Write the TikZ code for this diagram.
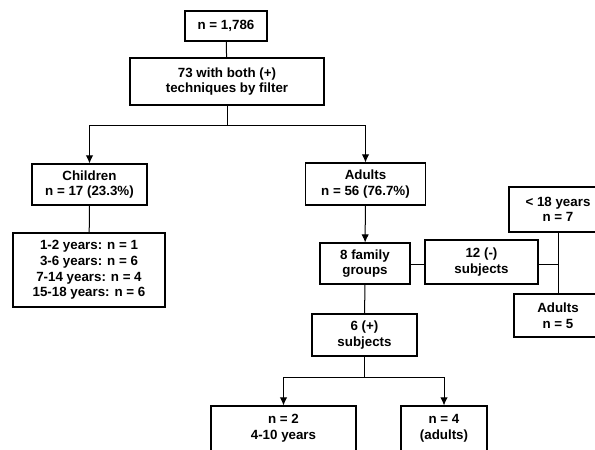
\documentclass[tikz,border=0pt]{standalone}
\usepackage{fontspec}
\setmainfont{Liberation Sans}
\usetikzlibrary{arrows.meta}

\tikzset{
  box/.style={draw, line width=0.8pt, align=center, inner sep=0pt, font=\fontsize{10}{11.7}\selectfont\bfseries},
  link/.style={line width=0.75pt},
  arr/.style={line width=0.75pt, -{Latex[length=6pt,width=5.5pt]}}
}

\begin{document}
\begin{tikzpicture}[x=0.75pt, y=-0.75pt]
\clip (0,0) rectangle (595,449);

% top of the chart
\node[box, minimum width=61.5pt, minimum height=22.5pt] (total) at (226,26) {n = 1,786};
\node[box, minimum width=145.5pt, minimum height=35.25pt] (filter) at (227,81.5) {73 with both (+)\\techniques by filter};

% children branch
\node[box, minimum width=86.25pt, minimum height=30.75pt] (child) at (89.5,184.5) {Children\\n = 17 (23.3\%)};
\node[box, minimum width=114pt, minimum height=55.5pt] (ages) at (89,270) {1-2 years: n = 1\\3-6 years: n = 6\\7-14 years: n = 4\\15-18 years: n = 6};

% adults branch
\node[box, minimum width=90pt, minimum height=31.5pt] (adult) at (365.5,184) {Adults\\n = 56 (76.7\%)};
\node[box, minimum width=67.5pt, minimum height=30.75pt] (family) at (365,263.5) {8 family\\groups};
\node[box, minimum width=84.75pt, minimum height=33pt] (negsub) at (481.5,262) {12 (-)\\subjects};
\node[box, minimum width=73.5pt, minimum height=33.75pt] (under) at (558,209.5) {< 18 years\\n = 7};
\node[box, minimum width=66pt, minimum height=32.25pt] (adultfive) at (558,315.5) {Adults\\n = 5};
\node[box, minimum width=78.75pt, minimum height=31.5pt] (possub) at (364.5,335) {6 (+)\\subjects};
\node[box, minimum width=108.75pt, minimum height=33.75pt] (two) at (283.5,428.5) {n = 2\\4-10 years};
\node[box, minimum width=64.5pt, minimum height=33.75pt] (four) at (444,428.5) {n = 4\\(adults)};

\coordinate (split) at (227,126);
\coordinate (joint) at (558,264);
\coordinate (fork) at (364.5,377);

\draw[link] (total) -- (filter);
\draw[link] (filter.south) -- (split);
\draw[arr] (split) -| (child.north);
\draw[arr] (split) -| (adult.north);
\draw[link] (child) -- (ages);
\draw[arr] (adult) -- (family);
\draw[link] (family.east |- joint) -- (negsub.west |- joint);
\draw[link] (negsub.east |- joint) -- (joint);
\draw[link] (under) -- (adultfive);
\draw[link] (family) -- (possub);
\draw[link] (possub.south) -- (fork);
\draw[arr] (fork) -| (two.north);
\draw[arr] (fork) -| (four.north);
\end{tikzpicture}
\end{document}
